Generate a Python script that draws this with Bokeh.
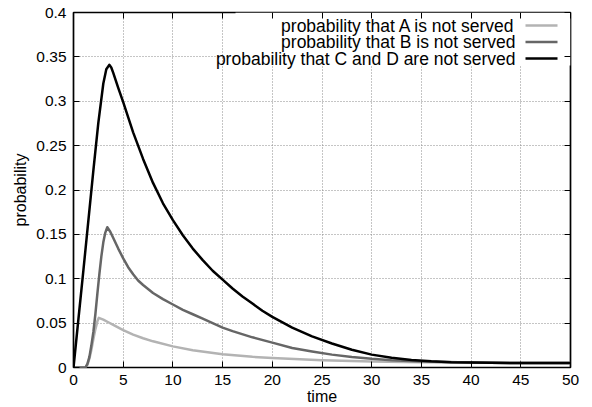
from bokeh.plotting import figure
from bokeh.models import Range1d, LinearAxis, FixedTicker, Label, BoxAnnotation
from bokeh.embed import file_html
from bokeh.resources import INLINE

# ---- data ----
t_a = [0, 1.0, 1.2, 1.4, 1.6, 1.8, 2.0, 2.2, 2.4, 2.55, 3.0, 3.5, 4.0, 5.0, 6.0, 7.0, 8.0,
       10.0, 12.0, 15.0, 18.0, 20.0, 25.0, 30.0, 35.0, 40.0, 45.0, 50.0]
p_a = [0, 0, 0, 0.003, 0.01, 0.02, 0.032, 0.043, 0.052, 0.056, 0.054, 0.051, 0.048,
       0.042, 0.037, 0.033, 0.0295, 0.0238, 0.0195, 0.015, 0.012, 0.0106, 0.0083,
       0.0068, 0.006, 0.0055, 0.005, 0.005]

t_b = [0, 1.0, 1.2, 1.4, 1.6, 1.8, 2.0, 2.2, 2.4, 2.6, 2.8, 3.0, 3.2, 3.4, 3.7, 4.0, 4.5,
       5.0, 5.5, 6.0, 6.5, 7.0, 8.0, 9.0, 10.0, 11.0, 12.0, 13.0, 14.0, 15.0, 16.0, 18.0,
       20.0, 22.0, 24.0, 26.0, 28.0, 30.0, 32.0, 35.0, 40.0, 45.0, 50.0]
p_b = [0, 0, 0, 0.004, 0.012, 0.025, 0.04, 0.06, 0.083, 0.105, 0.125, 0.141, 0.152,
       0.158, 0.153, 0.146, 0.134, 0.123, 0.113, 0.105, 0.098, 0.093, 0.084, 0.077,
       0.071, 0.065, 0.06, 0.055, 0.05, 0.045, 0.041, 0.034, 0.028, 0.022, 0.018,
       0.0145, 0.0118, 0.0098, 0.0083, 0.0068, 0.0056, 0.005, 0.005]

t_cd = [0, 0.5, 1.0, 1.5, 2.0, 2.5, 3.0, 3.3, 3.6, 3.8, 4.0, 4.5, 5.0, 6.0, 7.0, 8.0, 9.0,
        10.0, 11.0, 12.0, 13.0, 14.0, 15.0, 16.0, 17.0, 18.0, 19.0, 20.0, 22.0, 24.0,
        26.0, 28.0, 30.0, 32.0, 34.0, 36.0, 38.0, 40.0, 45.0, 50.0]
p_cd = [0, 0.055, 0.11, 0.166, 0.222, 0.276, 0.32, 0.336, 0.341, 0.338, 0.332, 0.315,
        0.299, 0.265, 0.235, 0.208, 0.185, 0.166, 0.149, 0.134, 0.121, 0.109, 0.099,
        0.089, 0.08, 0.072, 0.064, 0.057, 0.045, 0.035, 0.027, 0.02, 0.0145, 0.011,
        0.0085, 0.007, 0.006, 0.0055, 0.005, 0.005]

series_labels = ["probability that A is not served",
                 "probability that B is not served",
                 "probability that C and D are not served"]
series_colors = ["#b3b3b3", "#666666", "#000000"]

x_ticks = [0, 5, 10, 15, 20, 25, 30, 35, 40, 45, 50]
y_ticks = [0, 0.05, 0.1, 0.15, 0.2, 0.25, 0.3, 0.35, 0.4]
y_tick_labels = ["0", "0.05", "0.1", "0.15", "0.2", "0.25", "0.3", "0.35", "0.4"]

# ---- layout ----
FONT = "Liberation Sans"
FW, FH = 497, 355
X0, X1, Y0, Y1 = 0, 50, 0, 0.4

p = figure(frame_width=FW, frame_height=FH, output_backend="svg", toolbar_location=None,
           x_range=Range1d(X0, X1), y_range=Range1d(Y0, Y1),
           min_border_left=73, min_border_right=22, min_border_top=12, min_border_bottom=36,
           background_fill_color="white", border_fill_color="white")

p.outline_line_color = "black"
p.outline_line_width = 1.7

for ax in p.xaxis:
    ax.ticker = FixedTicker(ticks=x_ticks)
for ax in p.yaxis:
    ax.ticker = FixedTicker(ticks=y_ticks)
    ax.major_label_overrides = {v: s for v, s in zip(y_ticks, y_tick_labels)}

for ax in list(p.xaxis) + list(p.yaxis):
    ax.axis_line_color = None
    ax.major_tick_in = 6
    ax.major_tick_out = 0
    ax.major_tick_line_color = "black"
    ax.major_tick_line_width = 1
    ax.minor_tick_line_color = None
    ax.major_label_text_font = FONT
    ax.major_label_text_font_size = "15.5px"
    ax.major_label_text_color = "black"
    ax.axis_label_text_font = FONT
    ax.axis_label_text_font_size = "16px"
    ax.axis_label_text_font_style = "normal"
    ax.axis_label_text_color = "black"

p.xaxis.axis_label = "time"
p.yaxis.axis_label = "probability"
p.xaxis.major_label_standoff = 7
p.xaxis.axis_label_standoff = 0
p.yaxis.major_label_standoff = 7
p.yaxis.axis_label_standoff = 4

# mirrored tick marks on top and right (no labels)
for loc, ticks in (("above", x_ticks), ("right", y_ticks)):
    ax = LinearAxis(ticker=FixedTicker(ticks=ticks))
    ax.axis_line_color = None
    ax.major_tick_in = 6
    ax.major_tick_out = 0
    ax.major_tick_line_color = "black"
    ax.minor_tick_line_color = None
    ax.major_label_text_font_size = "0px"
    ax.major_label_text_color = None
    ax.major_label_standoff = 0
    p.add_layout(ax, loc)

p.grid.grid_line_color = "#8a8a8a"
p.grid.grid_line_dash = "1 2"
p.grid.grid_line_width = 1
p.xgrid.ticker = FixedTicker(ticks=x_ticks)
p.ygrid.ticker = FixedTicker(ticks=y_ticks)

# ---- curves ----
for tt, vv, col in ((t_a, p_a, series_colors[0]), (t_b, p_b, series_colors[1]),
                    (t_cd, p_cd, series_colors[2])):
    p.line(tt, vv, line_color=col, line_width=2.5, line_join="round")


# ---- key (text right-aligned, sample on the right, opaque box) ----
def px_x(px):  # pixel offset from frame left -> data x
    return X0 + (X1 - X0) * px / FW


def px_y(py):  # pixel offset from frame top -> data y
    return Y1 - (Y1 - Y0) * py / FH


p.add_layout(BoxAnnotation(left=px_x(162), right=X1, top=Y1, bottom=px_y(53),
                           fill_color="white", fill_alpha=1.0, line_color=None,
                           level="underlay"))
row_y = [13, 29.5, 46]
for i, (lab, col) in enumerate(zip(series_labels, series_colors)):
    yc = row_y[i]
    p.add_layout(Label(x=px_x(442), y=px_y(yc), text=lab, text_align="right",
                       text_baseline="middle", text_font=FONT, text_font_size="17.5px",
                       text_color="black"))
    p.add_layout(BoxAnnotation(left=px_x(452), right=px_x(484),
                               top=px_y(yc - 1.25), bottom=px_y(yc + 1.25),
                               fill_color=col, fill_alpha=1.0, line_color=None))

open("out.html", "w").write(file_html(p, INLINE))
